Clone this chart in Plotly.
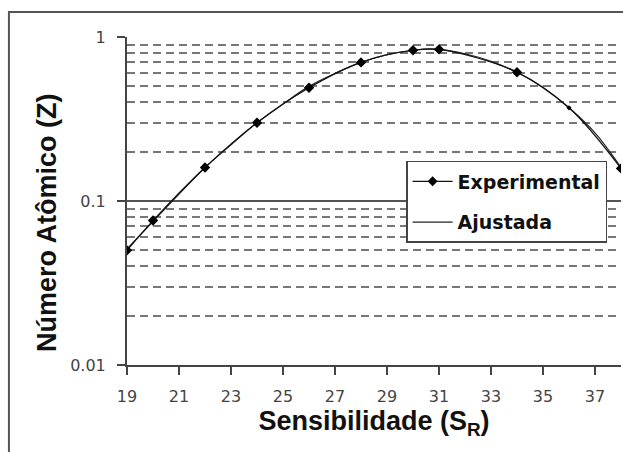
import plotly.graph_objects as go

# Experimental points
exp_x = [19, 20, 22, 24, 26, 28, 30, 31, 34, 36, 38]
exp_y = [0.050, 0.076, 0.16, 0.30, 0.49, 0.70, 0.83, 0.84, 0.61, 0.37, 0.158]

# Fitted curve
fit_x = [19, 20, 21, 22, 23, 24, 25, 26, 27, 28, 29, 30, 31, 32, 33, 34, 35, 36, 37, 38]
fit_y = [0.051, 0.075, 0.11, 0.16, 0.22, 0.30, 0.39, 0.50, 0.60, 0.70, 0.78, 0.83, 0.84, 0.79, 0.71, 0.61, 0.49, 0.37, 0.26, 0.16]

x_ticks = [19, 21, 23, 25, 27, 29, 31, 33, 35, 37]
y_ticks = [0.01, 0.1, 1]
y_tick_text = ["0.01", "0.1", "1"]

ARIAL = "Liberation Sans, Arial, sans-serif"
WIDE = "DejaVu Sans, Verdana, sans-serif"

# marker sizes (the point at 36 is drawn small in the reference)
marker_sizes = [4 if x == 36 else 8 for x in exp_x]

fig = go.Figure()
fig.add_trace(go.Scatter(
    x=fit_x, y=fit_y, mode="lines", name="Ajustada",
    line=dict(color="#222222", width=1.2, shape="spline"),
    legendgroup="b", legendrank=2,
))
fig.add_trace(go.Scatter(
    x=exp_x, y=exp_y, mode="lines+markers", name="Experimental",
    line=dict(color="#111111", width=1.2, shape="spline"),
    marker=dict(symbol="diamond", size=marker_sizes, color="#000000",
                opacity=1, line=dict(width=0, color="#000000")),
    legendgroup="a", legendrank=1,
))

fig.update_layout(
    width=623, height=452,
    margin=dict(l=127, r=2, t=37, b=87),
    paper_bgcolor="white", plot_bgcolor="white",
    font=dict(family=ARIAL, color="#222222"),
    showlegend=True,
    legend=dict(
        x=0.565, y=0.622, xanchor="left", yanchor="top",
        bgcolor="white", bordercolor="#444444", borderwidth=1.5,
        font=dict(family=WIDE, size=19, color="#111111", weight="bold"),
        tracegroupgap=13, traceorder="grouped",
        itemwidth=40,
    ),
    xaxis=dict(
        range=[19, 38], tickvals=x_ticks, ticktext=[str(v) for v in x_ticks],
        showgrid=False, zeroline=False,
        showline=True, linecolor="#444444", linewidth=2,
        ticks="outside", ticklen=8, tickwidth=2, tickcolor="#444444",
        ticklabelstandoff=8,
        tickfont=dict(family=WIDE, size=16, color="#444444"),
        title=dict(text="Sensibilidade (S<sub>R</sub>)", standoff=4,
                   font=dict(family=ARIAL, size=27, color="#111111", weight="bold")),
    ),
    yaxis=dict(
        type="log", range=[-2, 0], tickvals=y_ticks, ticktext=y_tick_text,
        showgrid=True, gridcolor="#555555", gridwidth=2,
        zeroline=False,
        showline=True, linecolor="#444444", linewidth=2,
        ticks="outside", ticklen=8, tickwidth=2, tickcolor="#444444",
        ticklabelstandoff=8,
        tickfont=dict(family=WIDE, size=16, color="#444444"),
        minor=dict(showgrid=True, gridcolor="#777777", gridwidth=2, griddash="8px,5px",
                   ticks="", dtick="D1"),
    ),
    annotations=[dict(
        text="Número Atômico (Z)", textangle=-90,
        xref="paper", yref="paper", x=-0.162, y=0.436,
        xanchor="center", yanchor="middle", showarrow=False,
        font=dict(family=ARIAL, size=27, color="#111111", weight="bold"),
    )],
)

# outer frame of the figure
fig.add_shape(type="rect", xref="paper", yref="paper",
              x0=-0.239, x1=1.2, y0=-0.5, y1=1.076,
              line=dict(color="#555555", width=2), fillcolor="rgba(0,0,0,0)", layer="below")

fig.write_html(
    "out.html",
    config={"displayModeBar": False},
    post_script="document.documentElement.style.overflow='hidden';"
                "document.body.style.margin='0px';document.body.style.overflow='hidden';",
)
